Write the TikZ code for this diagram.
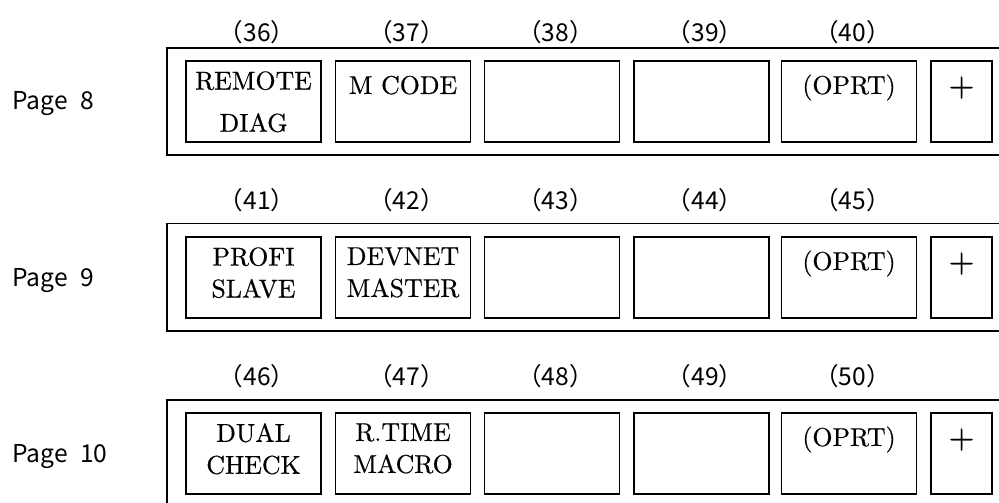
\documentclass[tikz,border=0pt]{standalone}
\usepackage{fontspec}
\newfontfamily\gothic{Noto Sans CJK JP}
\newfontfamily\keyfont{lmroman10-regular.otf}[FakeBold=0.5]
\usepackage{tikz}

\begin{document}
\begin{tikzpicture}[line cap=butt,
  frame/.style={line width=0.85pt},
  softkey/.style={draw,line width=0.6pt,minimum width=2.70cm,minimum height=1.62cm,inner sep=0pt},
  pluskey/.style={softkey,minimum width=1.22cm},
  keytext/.style={inner sep=0pt,align=center,font=\keyfont\fontsize{14.7}{18.2}\selectfont},
  plustext/.style={inner sep=0pt,anchor=base,font=\keyfont\fontsize{19}{20}\selectfont},
  keynum/.style={inner sep=0pt,font=\gothic\fontsize{14}{16}\selectfont},
  pagelbl/.style={inner sep=0pt,anchor=base west,font=\gothic\fontsize{14}{16}\selectfont}]
\clip (0,0) rectangle (19.98,10.04);
\draw[frame] (20.3,9.08) -- (3.34,9.08) -- (3.34,6.94) -- (20.3,6.94);
\node[softkey] (k36) at (5.07,8.01) {};
\node[softkey] (k37) at (8.06,8.01) {};
\node[softkey] (k38) at (11.04,8.01) {};
\node[softkey] (k39) at (14.03,8.01) {};
\node[softkey] (k40) at (16.98,8.01) {};
\node[pluskey] (k40p) at (19.23,8.01) {};
\node[keytext,anchor=north,font=\keyfont\fontsize{14.7}{24}\selectfont] (t36) at ([yshift=-0.21cm]k36.north) {REMOTE\\DIAG};
\node[keytext,anchor=base] (t37) at ([yshift=-0.67cm]k37.north) {M CODE};
\node[keytext,anchor=base] (t40) at ([yshift=-0.67cm]k40.north) {(OPRT)};
\node[plustext] (t40p) at ([yshift=-0.71cm]k40p.north) {+};
\node[keynum] (n36) at ([xshift=0.07cm,yshift=0.57cm]k36.north) {（36）};
\node[keynum] (n37) at ([xshift=0.07cm,yshift=0.57cm]k37.north) {（37）};
\node[keynum] (n38) at ([xshift=0.07cm,yshift=0.57cm]k38.north) {（38）};
\node[keynum] (n39) at ([xshift=0.07cm,yshift=0.57cm]k39.north) {（39）};
\node[keynum] (n40) at ([xshift=0.07cm,yshift=0.57cm]k40.north) {（40）};
\node[pagelbl] (p8) at (0.24,7.84) {Page\enspace 8};
\draw[frame] (20.3,5.57) -- (3.34,5.57) -- (3.34,3.42) -- (20.3,3.42);
\node[softkey] (k41) at (5.07,4.49) {};
\node[softkey] (k42) at (8.06,4.49) {};
\node[softkey] (k43) at (11.04,4.49) {};
\node[softkey] (k44) at (14.03,4.49) {};
\node[softkey] (k45) at (16.98,4.49) {};
\node[pluskey] (k45p) at (19.23,4.49) {};
\node[keytext,anchor=north] (t41) at ([yshift=-0.21cm]k41.north) {PROFI\\SLAVE};
\node[keytext,anchor=north] (t42) at ([yshift=-0.21cm]k42.north) {DEVNET\\MASTER};
\node[keytext,anchor=base] (t45) at ([yshift=-0.67cm]k45.north) {(OPRT)};
\node[plustext] (t45p) at ([yshift=-0.71cm]k45p.north) {+};
\node[keynum] (n41) at ([xshift=0.07cm,yshift=0.72cm]k41.north) {（41）};
\node[keynum] (n42) at ([xshift=0.07cm,yshift=0.72cm]k42.north) {（42）};
\node[keynum] (n43) at ([xshift=0.07cm,yshift=0.72cm]k43.north) {（43）};
\node[keynum] (n44) at ([xshift=0.07cm,yshift=0.72cm]k44.north) {（44）};
\node[keynum] (n45) at ([xshift=0.07cm,yshift=0.72cm]k45.north) {（45）};
\node[pagelbl] (p9) at (0.24,4.32) {Page\enspace 9};
\draw[frame] (20.3,2.04) -- (3.34,2.04) -- (3.34,-0.3) -- (20.3,-0.3);
\node[softkey] (k46) at (5.07,0.97) {};
\node[softkey] (k47) at (8.06,0.97) {};
\node[softkey] (k48) at (11.04,0.97) {};
\node[softkey] (k49) at (14.03,0.97) {};
\node[softkey] (k50) at (16.98,0.97) {};
\node[pluskey] (k50p) at (19.23,0.97) {};
\node[keytext,anchor=north] (t46) at ([yshift=-0.21cm]k46.north) {DUAL\\CHECK};
\node[keytext,anchor=north] (t47) at ([yshift=-0.21cm]k47.north) {R.TIME\\MACRO};
\node[keytext,anchor=base] (t50) at ([yshift=-0.67cm]k50.north) {(OPRT)};
\node[plustext] (t50p) at ([yshift=-0.71cm]k50p.north) {+};
\node[keynum] (n46) at ([xshift=0.07cm,yshift=0.73cm]k46.north) {（46）};
\node[keynum] (n47) at ([xshift=0.07cm,yshift=0.73cm]k47.north) {（47）};
\node[keynum] (n48) at ([xshift=0.07cm,yshift=0.73cm]k48.north) {（48）};
\node[keynum] (n49) at ([xshift=0.07cm,yshift=0.73cm]k49.north) {（49）};
\node[keynum] (n50) at ([xshift=0.07cm,yshift=0.73cm]k50.north) {（50）};
\node[pagelbl] (p10) at (0.24,0.80) {Page\enspace 10};
\end{tikzpicture}
\end{document}
